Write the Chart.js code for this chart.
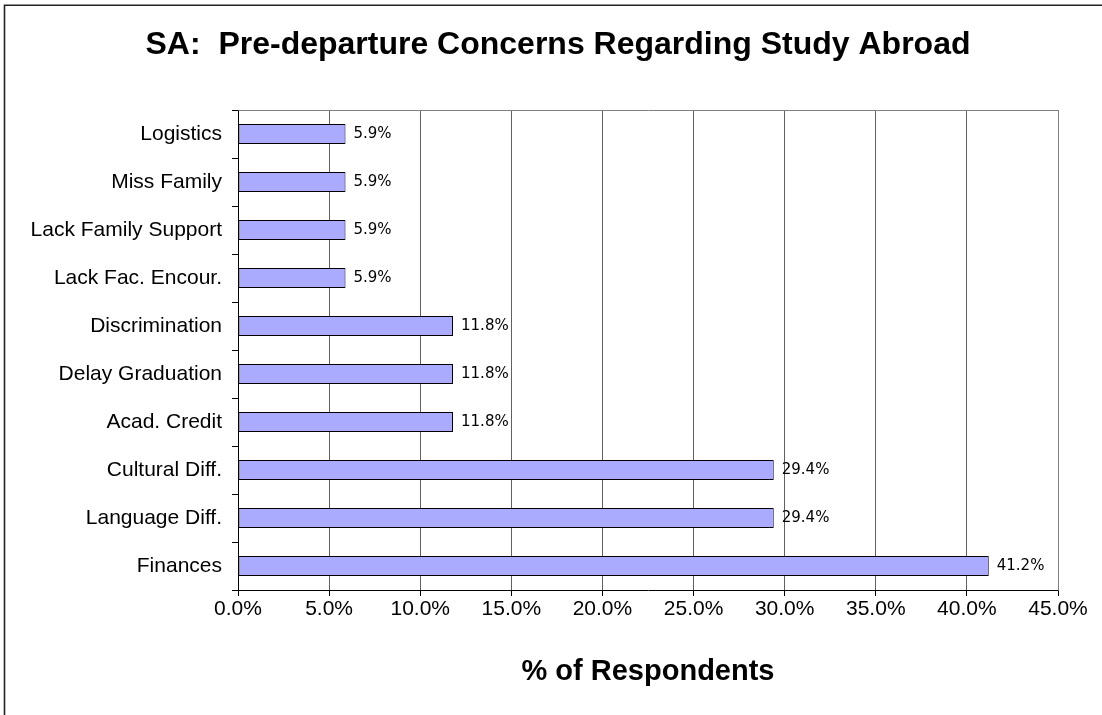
<!DOCTYPE html>
<html>
<head>
<meta charset="utf-8">
<script src="https://cdn.jsdelivr.net/npm/chart.js@4/dist/chart.umd.min.js"></script>
<style>
  html, body { margin: 0; padding: 0; background: #ffffff; }
  #wrap { width: 1102px; height: 715px; position: relative; }
</style>
</head>
<body>
<div id="wrap"><canvas id="chart" width="1102" height="715"></canvas></div>
<script>
// Survey answers: share of respondents naming each concern
const categories = [
  'Logistics', 'Miss Family', 'Lack Family Support', 'Lack Fac. Encour.',
  'Discrimination', 'Delay Graduation', 'Acad. Credit', 'Cultural Diff.',
  'Language Diff.', 'Finances'
];
const respondentPct = [5.9, 5.9, 5.9, 5.9, 11.8, 11.8, 11.8, 29.4, 29.4, 41.2];
const xTickValues = [0, 5, 10, 15, 20, 25, 30, 35, 40, 45];

const ARIAL = "'Liberation Sans', Arial, sans-serif";

// White page with the outer frame line on the left and top
const frame = {
  id: 'frame',
  beforeDraw(chart) {
    const ctx = chart.ctx;
    ctx.save();
    ctx.fillStyle = '#ffffff';
    ctx.fillRect(0, 0, chart.width, chart.height);
    ctx.strokeStyle = '#222222';
    ctx.lineWidth = 1.6;
    ctx.beginPath();
    ctx.moveTo(4.5, chart.height);
    ctx.lineTo(4.5, 5.2);
    ctx.lineTo(chart.width, 5.2);
    ctx.stroke();
    ctx.restore();
  }
};

// Grey border on the top and right of the plot area
const plotBorder = {
  id: 'plotBorder',
  beforeDatasetsDraw(chart) {
    const { ctx, chartArea: a } = chart;
    ctx.save();
    ctx.strokeStyle = '#808080';
    ctx.lineWidth = 1;
    ctx.beginPath();
    ctx.moveTo(Math.round(a.left) + 0.5, Math.round(a.top) + 0.5);
    ctx.lineTo(Math.round(a.right) + 0.5, Math.round(a.top) + 0.5);
    ctx.lineTo(Math.round(a.right) + 0.5, Math.round(a.bottom) + 0.5);
    ctx.stroke();
    ctx.restore();
  }
};

// Percentage written just past the end of each bar
const valueLabels = {
  id: 'valueLabels',
  afterDatasetsDraw(chart) {
    const ctx = chart.ctx;
    const meta = chart.getDatasetMeta(0);
    const data = chart.data.datasets[0].data;
    ctx.save();
    ctx.font = "15px 'DejaVu Sans', Verdana, sans-serif";
    ctx.fillStyle = '#000000';
    ctx.textAlign = 'left';
    ctx.textBaseline = 'middle';
    meta.data.forEach((bar, i) => {
      ctx.fillText(data[i].toFixed(1) + '%', bar.x + 8, bar.y);
    });
    ctx.restore();
  }
};

new Chart(document.getElementById('chart'), {
  type: 'bar',
  data: {
    labels: categories,
    datasets: [{
      data: respondentPct,
      backgroundColor: '#AAAAFF',
      borderColor: '#000000',
      borderWidth: 1,
      borderSkipped: false,
      categoryPercentage: 1,
      barPercentage: 0.42
    }]
  },
  options: {
    indexAxis: 'y',
    responsive: false,
    animation: false,
    devicePixelRatio: 1,
    layout: { padding: { left: 14, right: 0, top: 0, bottom: 0 } },
    plugins: {
      legend: { display: false },
      tooltip: { enabled: false },
      title: {
        display: true,
        text: 'SA:  Pre-departure Concerns Regarding Study Abroad',
        color: '#000000',
        font: { family: ARIAL, size: 32, weight: 'bold', lineHeight: 1.2 },
        padding: { top: 26, bottom: 45.6 }
      }
    },
    scales: {
      x: {
        type: 'linear',
        position: 'bottom',
        min: 0,
        max: 45,
        afterBuildTicks(scale) {
          scale.ticks = xTickValues.map(v => ({ value: v }));
        },
        afterFit(scale) {
          scale.height = 125;
          scale.paddingRight = 44;
        },
        ticks: {
          color: '#000000',
          font: { family: ARIAL, size: 21 },
          padding: 1,
          maxRotation: 0,
          callback: v => Number(v).toFixed(1) + '%'
        },
        grid: {
          color: '#606060',
          tickColor: '#000000',
          tickLength: 6,
          lineWidth: 1
        },
        border: { color: '#000000', width: 1 },
        title: {
          display: true,
          text: '% of Respondents',
          color: '#000000',
          font: { family: ARIAL, size: 29, weight: 'bold', lineHeight: 1.2 },
          padding: { top: 0, bottom: 25.6 }
        }
      },
      y: {
        type: 'category',
        position: 'left',
        afterFit(scale) { scale.width = 224; },
        ticks: {
          color: '#000000',
          font: { family: ARIAL, size: 21 },
          padding: 10
        },
        grid: {
          display: true,
          drawOnChartArea: false,
          offset: true,
          color: '#000000',
          tickLength: 6
        },
        border: { color: '#000000', width: 1 }
      }
    }
  },
  plugins: [frame, plotBorder, valueLabels]
});
</script>
</body>
</html>
